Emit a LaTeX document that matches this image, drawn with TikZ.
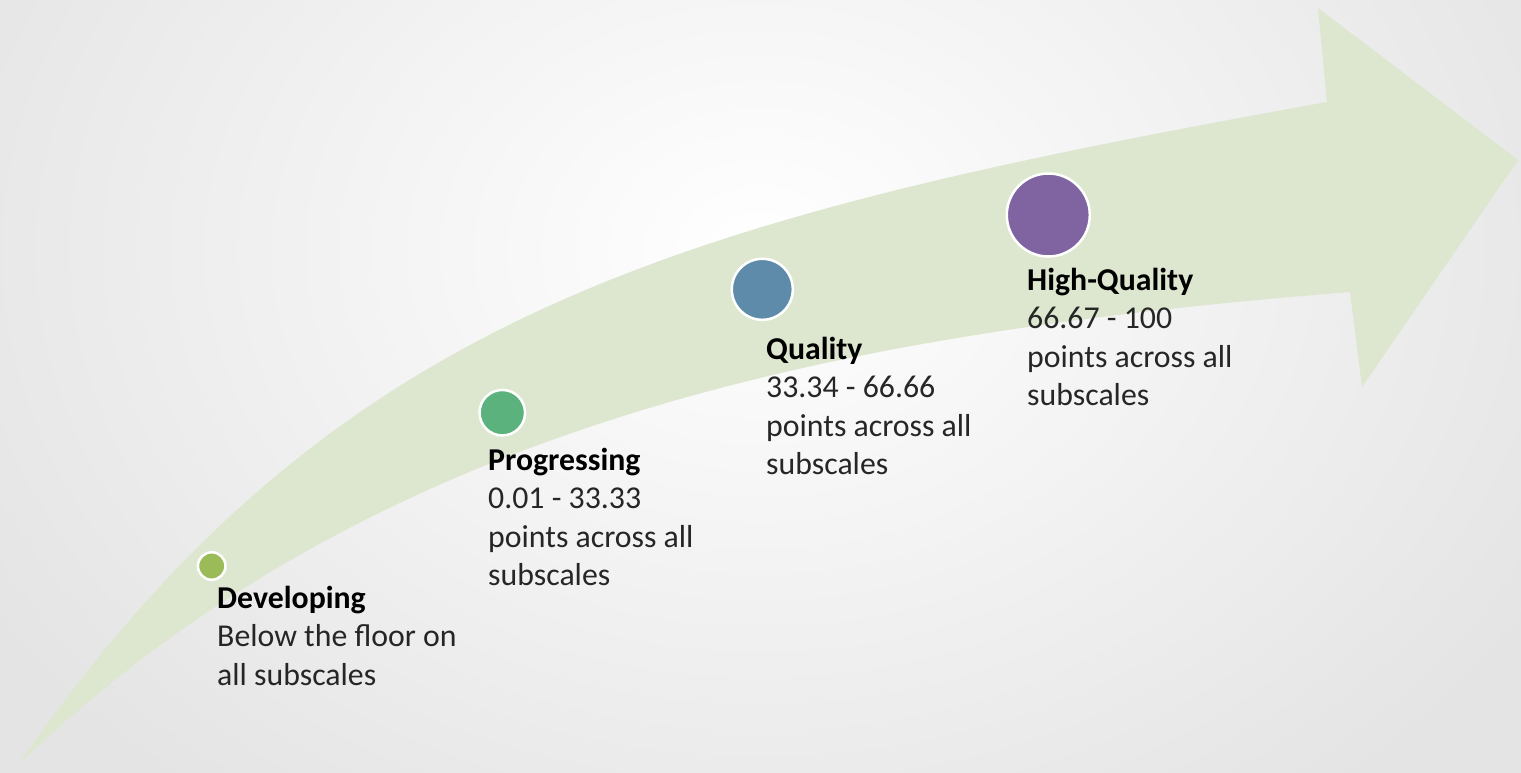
\documentclass[tikz,border=0pt]{standalone}
\usepackage{fontspec}
\setmainfont{Carlito}
\definecolor{arrowgreen}{RGB}{221,231,208}
\definecolor{bgouter}{RGB}{228,228,228}
\definecolor{cdev}{RGB}{155,187,89}
\definecolor{cprog}{RGB}{91,178,124}
\definecolor{cqual}{RGB}{94,139,170}
\definecolor{chq}{RGB}{128,100,162}
\definecolor{bodytext}{RGB}{38,38,38}
\begin{document}
\begin{tikzpicture}[x=1pt,y=-1pt,
  dot/.style={circle,draw=white,line width=2.5pt,inner sep=0pt},
  ttl/.style={anchor=base west,inner sep=0pt,font=\fontsize{31.8}{38.5}\selectfont\bfseries,text=black},
  body/.style={anchor=base west,inner sep=0pt,font=\fontsize{31.8}{38.5}\selectfont,text=bodytext}]
\useasboundingbox (0,0) rectangle (1521,772);
\begin{scope}
\clip (0,0) rectangle (1521,772);
\shade[inner color=white,outer color=bgouter] (-150,-450) rectangle (1670,950);
\end{scope}
% big curved arrow
\fill[arrowgreen] (20,762) .. controls (333.5,311) and (677,219) .. (1327,102)
  -- (1318,8) -- (1518,160) -- (1362,387) -- (1350,292)
  .. controls (850,332) and (380,418) .. (20,763) -- cycle;
% dots
\node[dot,fill=cdev,minimum size=27.5pt] (ddev) at (211.7,566) {};
\node[dot,fill=cprog,minimum size=45.5pt] (dprog) at (502.3,412.7) {};
\node[dot,fill=cqual,minimum size=61pt] (dqual) at (762.3,289.3) {};
\node[dot,fill=chq,minimum size=83pt] (dhq) at (1048.3,215) {};
% texts
\node[ttl] (dev0) at (217,608) {Developing};
\node[body] (dev1) at (217,646.5) {Below the floor on};
\node[body] (dev2) at (217,685) {all subscales};
\node[ttl] (prog0) at (488,470) {Progressing};
\node[body] (prog1) at (488,508.5) {0.01 - 33.33};
\node[body] (prog2) at (488,547) {points across all};
\node[body] (prog3) at (488,585.5) {subscales};
\node[ttl] (qual0) at (766,359) {Quality};
\node[body] (qual1) at (766,397.5) {33.34 - 66.66};
\node[body] (qual2) at (766,436) {points across all};
\node[body] (qual3) at (766,474.5) {subscales};
\node[ttl] (hq0) at (1027,290) {High-Quality};
\node[body] (hq1) at (1027,328.5) {66.67 - 100};
\node[body] (hq2) at (1027,367) {points across all};
\node[body] (hq3) at (1027,405.5) {subscales};
\end{tikzpicture}
\end{document}
